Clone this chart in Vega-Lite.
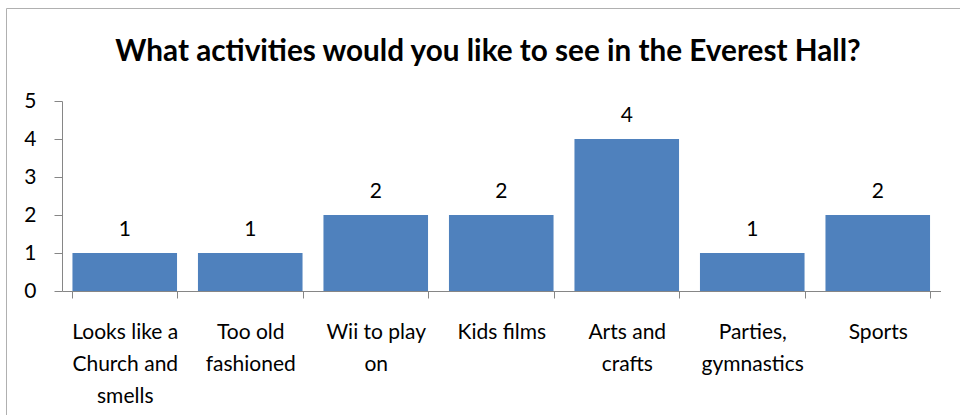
{
  "$schema": "https://vega.github.io/schema/vega-lite/v6.json",
  "autosize": "none",
  "width": 954,
  "height": 407,
  "padding": {"left": 6, "top": 8, "right": 0, "bottom": 0},
  "background": "white",
  "config": {
    "font": "Lato",
    "view": {"stroke": "#B0B0B0", "strokeWidth": 1},
    "axis": {"grid": false, "domainColor": "#868686", "tickColor": "#868686", "labelColor": "black", "labelFont": "Lato", "labelFontSize": 21, "title": null}
  },
  "title": {
    "text": "What activities would you like to see in the Everest Hall?",
    "font": "Lato",
    "fontSize": 29.7,
    "fontWeight": "bold",
    "color": "black",
    "anchor": "middle",
    "frame": "group",
    "baseline": "alphabetic",
    "offset": -56,
    "dy": 27,
    "dx": 5
  },
  "data": {
    "values": [
      {"activity": "Looks like a Church and smells", "count": 1},
      {"activity": "Too old fashioned", "count": 1},
      {"activity": "Wii to play on", "count": 2},
      {"activity": "Kids films", "count": 2},
      {"activity": "Arts and crafts", "count": 4},
      {"activity": "Parties, gymnastics", "count": 1},
      {"activity": "Sports", "count": 2}
    ]
  },
  "encoding": {
    "x": {
      "field": "activity",
      "type": "nominal",
      "sort": null,
      "scale": {"range": [56, 934.5], "paddingInner": 0.1667, "paddingOuter": 0.0833},
      "axis": {
        "orient": "bottom",
        "offset": -124,
        "labelAngle": 0,
        "tickBand": "extent",
        "tickSize": 7,
        "labelPadding": 23,
        "labelBaseline": "top",
        "labelLineHeight": 32,
        "labelLimit": 0,
        "labelExpr": "datum.label == 'Looks like a Church and smells' ? ['Looks like a\u00a0', 'Church and', 'smells'] : datum.label == 'Too old fashioned' ? ['Too old', 'fashioned'] : datum.label == 'Wii to play on' ? ['Wii to play', 'on'] : datum.label == 'Arts and crafts' ? ['Arts and', 'crafts'] : datum.label == 'Parties, gymnastics' ? ['Parties,', 'gymnastics'] : datum.label"
      }
    },
    "y": {
      "field": "count",
      "type": "quantitative",
      "scale": {"domain": [0, 5], "range": [283, 93], "nice": false},
      "axis": {"orient": "left", "offset": -56, "values": [0, 1, 2, 3, 4, 5], "tickSize": 8, "labelPadding": 18, "labelBaseline": "middle"}
    }
  },
  "layer": [
    {"mark": {"type": "bar", "color": "#4F81BD"}},
    {"mark": {"type": "text", "fontSize": 21, "font": "Lato", "color": "black", "dy": -13, "baseline": "bottom"}, "encoding": {"text": {"field": "count", "type": "quantitative"}}}
  ]
}
